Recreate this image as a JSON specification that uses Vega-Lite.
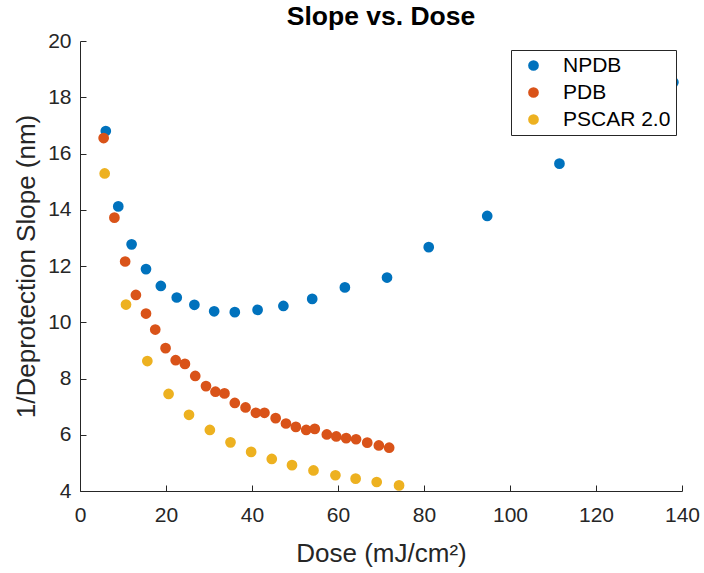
{
  "$schema": "https://vega.github.io/schema/vega-lite/v6.json",
  "width": 602,
  "height": 450,
  "autosize": {"type": "none"},
  "padding": {"left": 80, "top": 41, "right": 22, "bottom": 82},
  "background": "white",
  "title": {"text": "Slope vs. Dose", "font": "Liberation Sans", "fontSize": 26.5, "fontWeight": "bold", "color": "#000000", "offset": 0, "anchor": "middle"},
  "config": {
    "view": {"stroke": null},
    "axis": {
      "labelFont": "Liberation Sans", "titleFont": "Liberation Sans",
      "labelFontSize": 21, "titleFontSize": 26, "titleFontWeight": "normal",
      "labelColor": "#262626", "titleColor": "#262626",
      "domainColor": "#262626", "tickColor": "#262626", "domainWidth": 1, "tickWidth": 1,
      "grid": false, "tickSize": -6, "labelFlush": false, "labelOverlap": false
    }
  },
  "data": {"values": [
    {"s": "NPDB", "dose": 6.0, "v": 16.8},
    {"s": "NPDB", "dose": 8.9, "v": 14.12},
    {"s": "NPDB", "dose": 12.0, "v": 12.77},
    {"s": "NPDB", "dose": 15.35, "v": 11.89},
    {"s": "NPDB", "dose": 18.8, "v": 11.29},
    {"s": "NPDB", "dose": 22.5, "v": 10.88},
    {"s": "NPDB", "dose": 26.6, "v": 10.62},
    {"s": "NPDB", "dose": 31.2, "v": 10.39},
    {"s": "NPDB", "dose": 36.0, "v": 10.36},
    {"s": "NPDB", "dose": 41.3, "v": 10.44},
    {"s": "NPDB", "dose": 47.3, "v": 10.58},
    {"s": "NPDB", "dose": 54.0, "v": 10.83},
    {"s": "NPDB", "dose": 61.6, "v": 11.24},
    {"s": "NPDB", "dose": 71.4, "v": 11.59},
    {"s": "NPDB", "dose": 81.1, "v": 12.67},
    {"s": "NPDB", "dose": 94.7, "v": 13.78},
    {"s": "NPDB", "dose": 111.5, "v": 15.64},
    {"s": "NPDB", "dose": 138.0, "v": 18.53},
    {"s": "PDB", "dose": 5.5, "v": 16.55},
    {"s": "PDB", "dose": 8.0, "v": 13.72},
    {"s": "PDB", "dose": 10.5, "v": 12.16},
    {"s": "PDB", "dose": 13.0, "v": 10.97},
    {"s": "PDB", "dose": 15.35, "v": 10.31},
    {"s": "PDB", "dose": 17.5, "v": 9.74},
    {"s": "PDB", "dose": 19.9, "v": 9.08},
    {"s": "PDB", "dose": 22.25, "v": 8.65},
    {"s": "PDB", "dose": 24.4, "v": 8.52},
    {"s": "PDB", "dose": 26.8, "v": 8.09},
    {"s": "PDB", "dose": 29.3, "v": 7.73},
    {"s": "PDB", "dose": 31.5, "v": 7.53},
    {"s": "PDB", "dose": 33.6, "v": 7.47},
    {"s": "PDB", "dose": 36.0, "v": 7.13},
    {"s": "PDB", "dose": 38.5, "v": 6.97},
    {"s": "PDB", "dose": 40.9, "v": 6.78},
    {"s": "PDB", "dose": 42.9, "v": 6.78},
    {"s": "PDB", "dose": 45.5, "v": 6.59},
    {"s": "PDB", "dose": 47.9, "v": 6.40},
    {"s": "PDB", "dose": 50.2, "v": 6.28},
    {"s": "PDB", "dose": 52.6, "v": 6.17},
    {"s": "PDB", "dose": 54.6, "v": 6.21},
    {"s": "PDB", "dose": 57.4, "v": 6.01},
    {"s": "PDB", "dose": 59.6, "v": 5.94},
    {"s": "PDB", "dose": 61.9, "v": 5.88},
    {"s": "PDB", "dose": 64.2, "v": 5.84},
    {"s": "PDB", "dose": 66.8, "v": 5.72},
    {"s": "PDB", "dose": 69.5, "v": 5.62},
    {"s": "PDB", "dose": 71.9, "v": 5.54},
    {"s": "PSCAR 2.0", "dose": 5.74, "v": 15.29},
    {"s": "PSCAR 2.0", "dose": 10.7, "v": 10.63},
    {"s": "PSCAR 2.0", "dose": 15.66, "v": 8.62},
    {"s": "PSCAR 2.0", "dose": 20.6, "v": 7.45},
    {"s": "PSCAR 2.0", "dose": 25.35, "v": 6.71},
    {"s": "PSCAR 2.0", "dose": 30.2, "v": 6.17},
    {"s": "PSCAR 2.0", "dose": 35.0, "v": 5.73},
    {"s": "PSCAR 2.0", "dose": 39.8, "v": 5.39},
    {"s": "PSCAR 2.0", "dose": 44.6, "v": 5.14},
    {"s": "PSCAR 2.0", "dose": 49.3, "v": 4.92},
    {"s": "PSCAR 2.0", "dose": 54.3, "v": 4.73},
    {"s": "PSCAR 2.0", "dose": 59.4, "v": 4.56},
    {"s": "PSCAR 2.0", "dose": 64.1, "v": 4.44},
    {"s": "PSCAR 2.0", "dose": 69.0, "v": 4.32},
    {"s": "PSCAR 2.0", "dose": 74.2, "v": 4.20}
  ]},
  "mark": {"type": "point", "filled": true, "opacity": 1, "size": 115},
  "encoding": {
    "x": {"field": "dose", "type": "quantitative", "title": "Dose (mJ/cm²)",
      "scale": {"domain": [0, 140], "nice": false, "zero": false},
      "axis": {"values": [0, 20, 40, 60, 80, 100, 120, 140], "labelPadding": 19, "titlePadding": 15}},
    "y": {"field": "v", "type": "quantitative", "title": "1/Deprotection Slope (nm)",
      "scale": {"domain": [4, 20], "nice": false, "zero": false},
      "axis": {"values": [4, 6, 8, 10, 12, 14, 16, 18, 20], "labelPadding": 15, "titlePadding": 8}},
    "color": {"field": "s", "type": "nominal",
      "scale": {"domain": ["NPDB", "PDB", "PSCAR 2.0"], "range": ["#0072BD", "#D95319", "#EDB120"]},
      "legend": {"title": null, "orient": "none", "legendX": 431, "legendY": 9,
        "strokeColor": "#262626", "fillColor": "white", "padding": 5, "symbolOffset": 7,
        "symbolType": "circle", "symbolSize": 115, "labelFont": "Liberation Sans", "labelFontSize": 21,
        "labelColor": "#000000", "labelOffset": 19, "rowPadding": 5, "symbolStrokeWidth": 0}}
  }
}
